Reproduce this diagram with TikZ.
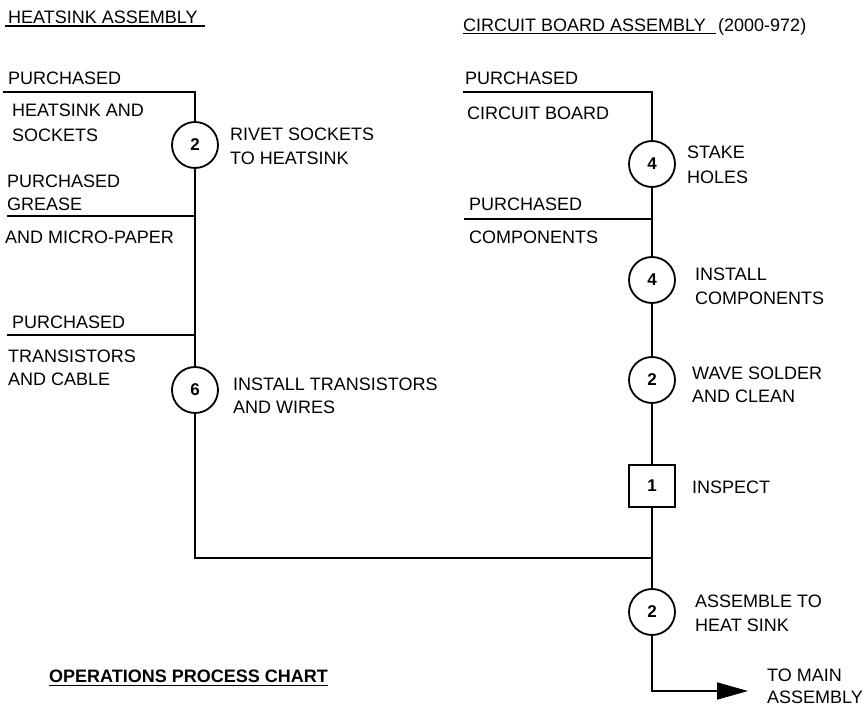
\documentclass[tikz,border=0pt]{standalone}
\usepackage{fontspec}
\setmainfont{Liberation Sans}
\usetikzlibrary{arrows.meta}
\begin{document}
\begin{tikzpicture}[x=1pt,y=-1pt,
  lbl/.style={anchor=base west,inner sep=0pt,font=\fontsize{18}{22}\selectfont},
  op/.style={circle,draw,line width=1.8pt,minimum size=46pt,inner sep=0pt,
    font=\fontsize{17}{20}\selectfont\bfseries},
  insp/.style={rectangle,draw,line width=1.8pt,minimum width=46pt,minimum height=42pt,
    inner sep=0pt,font=\fontsize{17}{20}\selectfont\bfseries},
  flow/.style={line width=1.8pt},
  uline/.style={line width=1.2pt},
]
\useasboundingbox (0,0) rectangle (868,706);

% ---------- titles ----------
\node[lbl] (hsTitle) at (8,23.5) {HEATSINK ASSEMBLY};
\draw[uline] ([xshift=-3pt,yshift=-2.5pt]hsTitle.base west) -- ([xshift=7pt,yshift=-2.5pt]hsTitle.base east);
\node[lbl] (cbTitle) at (463,31.5) {CIRCUIT BOARD ASSEMBLY};
\node[lbl] (cbCode) at (718,31.5) {(2000-972)};
\draw[uline] ([yshift=-2pt]cbTitle.base west) -- ([xshift=10pt,yshift=-2pt]cbTitle.base east);

% ---------- heatsink assembly line ----------
\coordinate (hsIn1) at (3,92);   \coordinate (hsJ1) at (195,92);
\coordinate (hsIn2) at (7,216);  \coordinate (hsJ2) at (195,216);
\coordinate (hsIn3) at (7,335);  \coordinate (hsJ3) at (195,335);
\coordinate (hsCorner) at (195,558);
\node[op] (op1) at (195,145) {2};
\node[op] (op2) at (195,390) {6};

\node[lbl] (hsP1) at (8,85) {PURCHASED};
\node[lbl] (hsM1a) at (12,117) {HEATSINK AND};
\node[lbl] (hsM1b) at (12,141.5) {SOCKETS};
\node[lbl] (op1a) at (230,141) {RIVET SOCKETS};
\node[lbl] (op1b) at (230,165) {TO HEATSINK};
\node[lbl] (hsP2a) at (7,187) {PURCHASED};
\node[lbl] (hsP2b) at (7,211) {GREASE};
\node[lbl] (hsM2) at (5,243) {AND MICRO-PAPER};
\node[lbl] (hsP3) at (12,328) {PURCHASED};
\node[lbl] (hsM3a) at (8,362) {TRANSISTORS};
\node[lbl] (hsM3b) at (8,385) {AND CABLE};
\node[lbl] (op2a) at (233,390) {INSTALL TRANSISTORS};
\node[lbl] (op2b) at (233,413) {AND WIRES};

\draw[flow] (hsIn1) -- (hsJ1) -- (op1);
\draw[flow] (op1) -- (op2);
\draw[flow] (hsIn2) -- (hsJ2);
\draw[flow] (hsIn3) -- (hsJ3);

% ---------- circuit board assembly line ----------
\coordinate (cbIn1) at (463,92);  \coordinate (cbJ1) at (652,92);
\coordinate (cbIn2) at (464,219); \coordinate (cbJ2) at (652,219);
\coordinate (cbJ3) at (652,558);
\coordinate (cbCorner) at (652,691);
\coordinate (outEnd) at (748,691);
\node[op] (op3) at (652,164) {4};
\node[op] (op4) at (652,280) {4};
\node[op] (op5) at (652,380) {2};
\node[insp] (insp1) at (652,486) {1};
\node[op] (op6) at (652,612) {2};

\node[lbl] (cbP1) at (465,85) {PURCHASED};
\node[lbl] (cbM1) at (467,120) {CIRCUIT BOARD};
\node[lbl] (op3a) at (687,159) {STAKE};
\node[lbl] (op3b) at (687,183) {HOLES};
\node[lbl] (cbP2) at (469,211) {PURCHASED};
\node[lbl] (cbM2) at (469,243.5) {COMPONENTS};
\node[lbl] (op4a) at (695,280) {INSTALL};
\node[lbl] (op4b) at (695,304) {COMPONENTS};
\node[lbl] (op5a) at (692,379) {WAVE SOLDER};
\node[lbl] (op5b) at (692,402) {AND CLEAN};
\node[lbl] (insp1a) at (692,493) {INSPECT};
\node[lbl] (op6a) at (695,607) {ASSEMBLE TO};
\node[lbl] (op6b) at (695,631) {HEAT SINK};
\node[lbl] (outA) at (767,681) {TO MAIN};
\node[lbl] (outB) at (767,703) {ASSEMBLY};

\draw[flow] (cbIn1) -- (cbJ1) -- (op3);
\draw[flow] (op3) -- (op4);
\draw[flow] (cbIn2) -- (cbJ2);
\draw[flow] (op4) -- (op5);
\draw[flow] (op5) -- (insp1);
\draw[flow] (insp1) -- (op6);
\draw[flow] (op2) -- (hsCorner) -- (cbJ3);
\draw[flow,-{Triangle[length=31pt,width=17pt]}] (op6) -- (cbCorner) -- (outEnd);

% ---------- chart caption ----------
\node[anchor=base east,inner sep=0pt,font=\fontsize{18}{22}\selectfont\bfseries] (caption) at (328,682) {OPERATIONS PROCESS CHART};
\draw[uline] ([yshift=-3.5pt]caption.base west) -- ([yshift=-3.5pt]caption.base east);
\end{tikzpicture}
\end{document}
